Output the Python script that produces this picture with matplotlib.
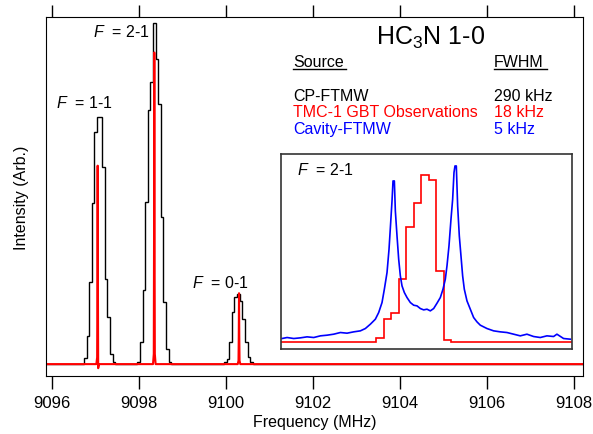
import numpy as np
import matplotlib.pyplot as plt

plt.rcParams['font.family'] = ['Liberation Sans', 'DejaVu Sans']
plt.rcParams['font.size'] = 11.5
plt.rcParams['mathtext.fontset'] = 'custom'
plt.rcParams['mathtext.it'] = 'Liberation Sans:italic'
plt.rcParams['mathtext.rm'] = 'Liberation Sans'

# CP-FTMW spectrum (black), channels of 0.06 MHz starting at each start freq
cp_start = [9096.743, 9097.968, 9099.961]
cp_step = 0.06
cp_11 = [0.017, 0.083, 0.241, 0.472, 0.681, 0.726, 0.726, 0.577, 0.249, 0.137, 0.029, 0.005]
cp_21 = [0.007, 0.064, 0.218, 0.476, 0.746, 0.826, 1.0, 0.896, 0.762, 0.431, 0.182, 0.044, 0.006]
cp_01 = [0.007, 0.015, 0.064, 0.152, 0.196, 0.205, 0.186, 0.132, 0.064, 0.020, 0.005]

# TMC-1 GBT lines (red) in the main panel
gbt_center = [9097.057, 9098.359, 9100.306]
gbt_off = [-0.03, -0.012, -0.006, 0.0, 0.006, 0.012, 0.03]
gbt_11 = [0.0, 0.02, 0.23, 0.582, 0.23, -0.012, 0.0]
gbt_21 = [0.0, 0.03, 0.37, 0.914, 0.37, 0.03, 0.0]
gbt_01 = [0.0, 0.01, 0.08, 0.208, 0.08, 0.01, 0.0]

# inset: F = 2-1, offsets in kHz
inset_gbt_start = -30.0
inset_gbt_step = 4.5
inset_gbt = [0.026, 0.136, 0.172, 0.376, 0.692, 0.836, 1.0, 0.972, 0.426, 0.012]

cav_khz = [-86.6, -83.6, -79.6, -75.6, -71.6, -67.6, -63.6, -59.6, -55.6, -51.6,
           -47.6, -43.6, -39.6, -36.6, -33.6, -30.6, -28.6, -26.6, -25.2, -23.6,
           -22.4, -21.4, -20.6, -20.0, -19.2, -18.6, -17.6, -16.6, -15.6, -14.6,
           -13.2, -11.6, -9.6, -7.6, -5.6, -3.6, -1.6, 0.4, 2.4, 4.4,
           6.4, 8.4, 10.0, 11.4, 12.4, 13.6, 14.8, 15.8, 16.6, 17.2,
           18.0, 18.8, 19.8, 20.8, 21.8, 22.8, 24.4, 26.4, 28.4, 30.4,
           32.4, 36.4, 40.4, 44.4, 48.4, 52.4, 56.4, 60.4, 64.4, 68.4,
           72.4, 76.4, 78.4, 82.4, 86.4]
cav_int = [0.020, 0.026, 0.020, 0.024, 0.030, 0.026, 0.036, 0.040, 0.046, 0.056,
           0.052, 0.060, 0.066, 0.080, 0.106, 0.136, 0.176, 0.236, 0.316, 0.416,
           0.556, 0.716, 0.846, 0.966, 0.966, 0.786, 0.636, 0.496, 0.396, 0.336,
           0.296, 0.266, 0.236, 0.220, 0.216, 0.200, 0.192, 0.196, 0.186, 0.200,
           0.232, 0.266, 0.316, 0.376, 0.456, 0.576, 0.736, 0.856, 1.016, 1.056,
           1.056, 0.816, 0.636, 0.516, 0.396, 0.316, 0.246, 0.196, 0.146, 0.120,
           0.100, 0.080, 0.066, 0.060, 0.056, 0.046, 0.036, 0.046, 0.032, 0.026,
           0.036, 0.032, 0.046, 0.020, 0.016]

xmin, xmax = 9095.87, 9108.21

fig = plt.figure(figsize=(5.93, 4.35), dpi=100)
ax = fig.add_axes([0.0776, 0.134, 0.9054, 0.8246])

# black stepped trace
edges = [xmin]
vals = []
for start, v in zip(cp_start, [cp_11, cp_21, cp_01]):
    vals.append(0.0)
    edges += list(start + cp_step * np.arange(len(v) + 1))
    vals += v
vals.append(0.0)
edges.append(xmax)
ax.stairs(vals, edges, color='black', lw=1.0, baseline=None)

# red trace
rx = [xmin]
ry = [0.0]
for c, v in zip(gbt_center, [gbt_11, gbt_21, gbt_01]):
    rx += [c + o for o in gbt_off]
    ry += v
rx.append(xmax)
ry.append(0.0)
ax.plot(rx, ry, color='red', lw=1.5)

ax.set_xlim(xmin, xmax)
ax.set_ylim(-0.034, 1.018)
ax.set_xticks(np.arange(9096, 9109, 2))
ax.set_yticks([])
ax.tick_params(axis='x', direction='out', length=9, width=1, top=True, pad=5,
               labelsize=12)
ax.set_xlabel('Frequency (MHz)', labelpad=3)
ax.set_ylabel('Intensity (Arb.)', labelpad=12)

# labels
ax.text(9103.46, 0.938, 'HC$_3$N 1-0', fontsize=18)
ax.text(9101.55, 0.873, 'Source', fontsize=11.5)
ax.text(9106.17, 0.873, 'FWHM', fontsize=11.5)
ax.plot([9101.55, 9102.77], [0.866, 0.866], color='black', lw=1, clip_on=False)
ax.plot([9106.17, 9107.39], [0.866, 0.866], color='black', lw=1, clip_on=False)
ax.text(9101.55, 0.775, 'CP-FTMW', color='black')
ax.text(9106.17, 0.775, '290 kHz', color='black')
ax.text(9101.55, 0.728, 'TMC-1 GBT Observations', color='red')
ax.text(9106.17, 0.728, '18 kHz', color='red')
ax.text(9101.55, 0.679, 'Cavity-FTMW', color='blue')
ax.text(9106.17, 0.679, '5 kHz', color='blue')

ax.text(9096.94, 0.961, r'$F$  = 2-1')
ax.text(9096.10, 0.753, r'$F$  = 1-1')
ax.text(9099.22, 0.225, r'$F$  = 0-1')

# inset
axi = fig.add_axes([0.474, 0.195, 0.491, 0.448])
ilo, ihi = -87.2, 87.6
iedges = [ilo] + list(inset_gbt_start + inset_gbt_step * np.arange(len(inset_gbt) + 1)) + [ihi]
ivals = [0.0] + inset_gbt + [0.0]
axi.stairs(ivals, iedges, color='red', lw=1.2, baseline=None)
axi.plot(cav_khz, cav_int, color='blue', lw=1.2)
axi.set_xlim(ilo, ihi)
axi.set_ylim(-0.044, 1.126)
axi.set_xticks([])
axi.set_yticks([])
for s in axi.spines.values():
    s.set_color('#333333')
    s.set_linewidth(1.2)
axi.text(-77.8, 1.006, r'$F$  = 2-1')

fig.savefig('out.png', dpi=100)
